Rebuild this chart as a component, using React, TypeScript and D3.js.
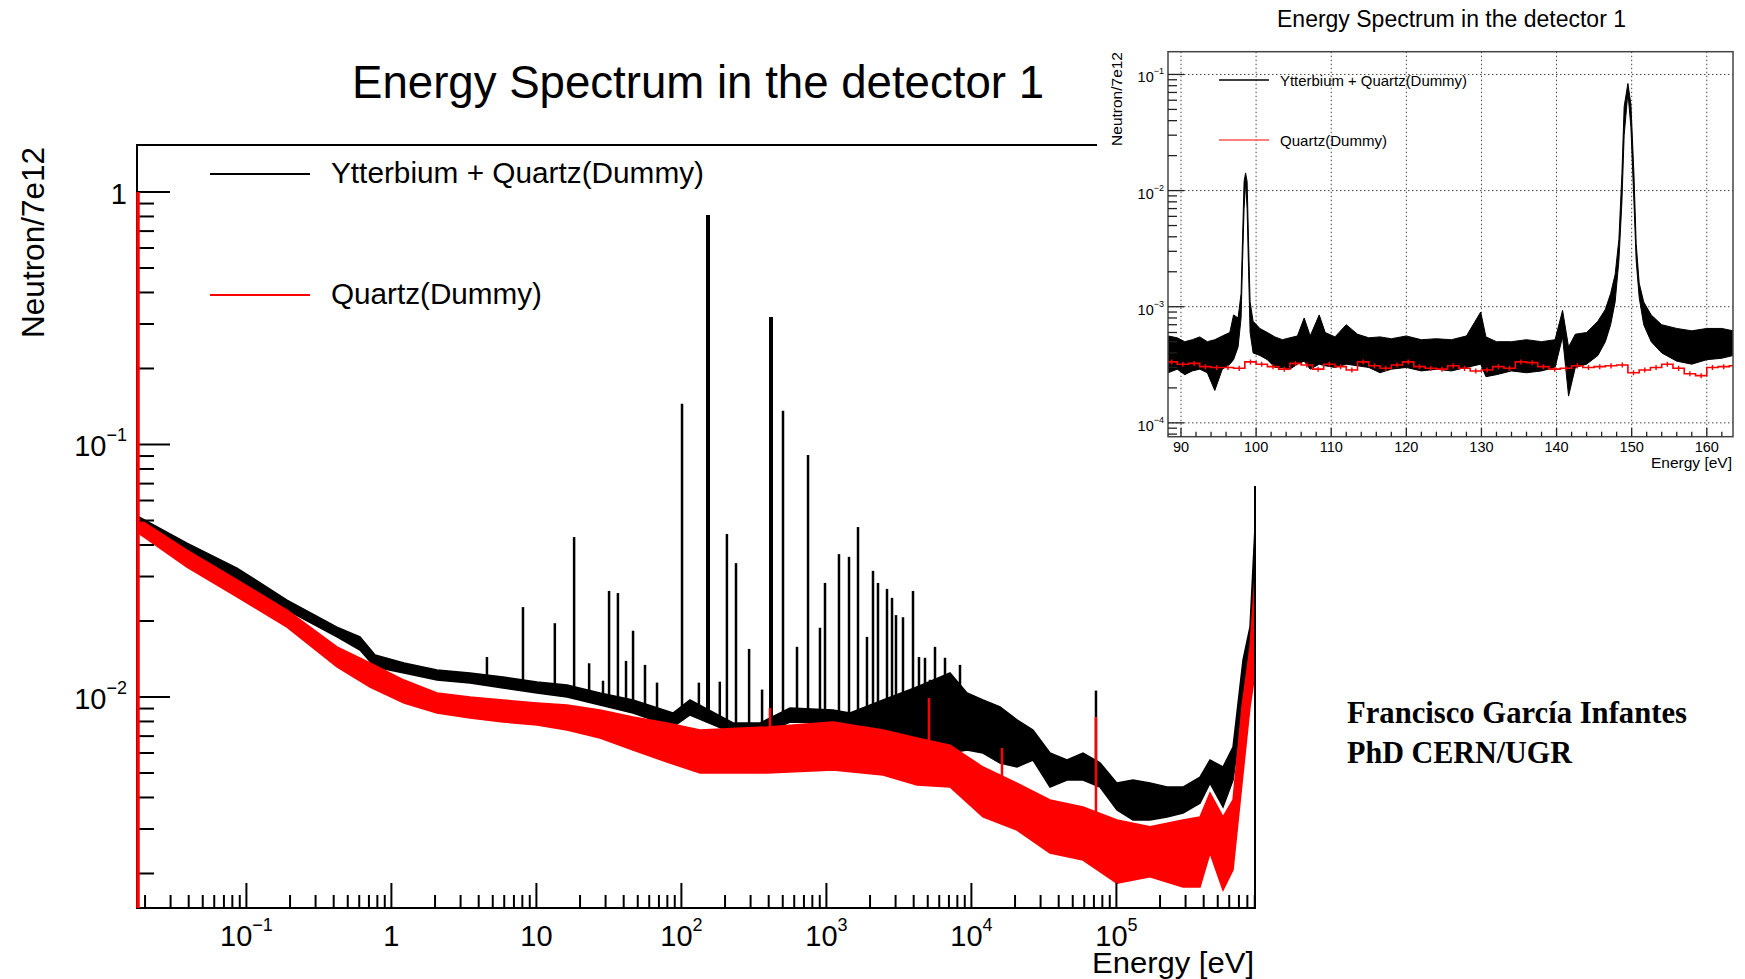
import React from "react";
import * as d3 from "d3";

// ---------------- Main chart data (energy in eV, Neutron/7e12) ----------------
const mainBlackE = [0.0176, 0.0389, 0.0861, 0.1905, 0.4214, 0.607, 0.771, 1.221, 2.063, 3.484, 5.885, 10.1, 16.26, 27.46, 46.37, 87.5, 114.6, 227, 348.4, 561, 1110, 1455, 2457, 4215, 7120, 9327, 12020, 15745, 20630, 26590, 34840, 45630, 58850, 77090, 100900, 130200, 170500, 223400, 288000, 377200, 442100, 543600, 637200, 746700, 834500, 903400];
const mainBlackHi = [0.0521, 0.0407, 0.0324, 0.0242, 0.0189, 0.0173, 0.01467, 0.01364, 0.0128, 0.01245, 0.012, 0.01147, 0.01115, 0.01037, 0.00973, 0.00864, 0.00973, 0.00789, 0.00789, 0.00905, 0.00888, 0.00864, 0.00973, 0.01095, 0.01245, 0.01037, 0.00973, 0.00913, 0.00811, 0.0074, 0.006, 0.00563, 0.006, 0.00548, 0.00456, 0.00469, 0.00456, 0.0044, 0.0044, 0.00482, 0.00563, 0.00528, 0.00634, 0.014, 0.01893, 0.0471];
const mainBlackLo = [0.0476, 0.0372, 0.0291, 0.0221, 0.0173, 0.01535, 0.01315, 0.01245, 0.01167, 0.01136, 0.01085, 0.01037, 0.01, 0.0093, 0.00864, 0.00761, 0.00849, 0.0072, 0.00707, 0.00796, 0.00789, 0.0074, 0.00676, 0.00634, 0.006, 0.00617, 0.006, 0.00548, 0.00528, 0.00563, 0.0044, 0.00469, 0.00469, 0.0044, 0.00357, 0.00326, 0.00326, 0.00335, 0.00347, 0.0038, 0.00456, 0.00367, 0.00469, 0.00913, 0.01315, 0.0299];

const mainRedE = [0.0176, 0.0389, 0.0861, 0.1905, 0.4214, 0.712, 1.221, 2.063, 3.484, 5.885, 10.1, 16.26, 27.46, 46.37, 79.57, 134.4, 389.4, 1110, 2457, 4215, 7120, 12020, 20630, 34840, 58850, 100900, 170500, 288000, 377200, 442100, 543600, 637200, 734900, 834500, 903400];
const mainRedHi = [0.0512, 0.0382, 0.0291, 0.0221, 0.01578, 0.01364, 0.01167, 0.01037, 0.01, 0.00973, 0.00947, 0.0093, 0.00888, 0.00833, 0.00789, 0.0074, 0.00761, 0.00796, 0.0074, 0.00688, 0.00645, 0.00528, 0.00456, 0.00391, 0.00367, 0.00326, 0.00306, 0.00326, 0.00335, 0.00417, 0.00335, 0.00391, 0.00913, 0.01578, 0.0299];
const mainRedLo = [0.045, 0.0327, 0.0249, 0.0189, 0.01315, 0.01095, 0.00947, 0.00864, 0.00826, 0.00796, 0.00775, 0.0074, 0.00688, 0.00617, 0.00553, 0.005, 0.005, 0.00514, 0.00491, 0.00448, 0.0044, 0.00335, 0.00297, 0.00241, 0.00226, 0.00183, 0.00194, 0.00177, 0.00177, 0.00241, 0.00172, 0.00207, 0.00456, 0.00913, 0.01245];

const mainBlackPeakE = [4.56, 8.08, 13.4, 18.2, 23.1, 28.8, 31.7, 36.5, 41.5, 46.4, 56.1, 67.9, 101, 132, 152.6, 184, 206, 238, 293, 360, 415, 502, 627, 747, 903, 978, 1221, 1432, 1652, 1905, 2096, 2269, 2618, 2835, 3020, 3375, 3956, 4215, 4350, 4786, 5183, 5610, 6576, 8344, 72300];
const mainBlackPeakV = [0.0144, 0.0227, 0.0196, 0.043, 0.0136, 0.0116, 0.0263, 0.0258, 0.0139, 0.0183, 0.0134, 0.0114, 0.145, 0.0114, 0.811, 0.0115, 0.0442, 0.0339, 0.0155, 0.0107, 0.32, 0.136, 0.0158, 0.0909, 0.0188, 0.0283, 0.0368, 0.0359, 0.0471, 0.0173, 0.0316, 0.0283, 0.0268, 0.0247, 0.0211, 0.0207, 0.0263, 0.011, 0.0144, 0.0143, 0.0117, 0.0158, 0.0143, 0.0134, 0.0106];

const mainRedPeakE = [408, 5100, 16250, 72300];
const mainRedPeakV = [0.00905, 0.0099, 0.00628, 0.00833];
const mainRedEdgeV = 1.0;

const MAIN_X_DOMAIN: [number, number] = [0.0176, 903400];
const MAIN_Y_DOMAIN: [number, number] = [0.00146, 1.535];

const mainXTickValues = [0.1, 1, 10, 100, 1000, 10000, 100000];
const mainXTickBase = ["10", "1", "10", "10", "10", "10", "10"];
const mainXTickExp = ["\u22121", "", "", "2", "3", "4", "5"];
const mainYTickValues = [0.01, 0.1, 1];
const mainYTickBase = ["10", "10", "1"];
const mainYTickExp = ["\u22122", "\u22121", ""];

// ---------------- Inset data ----------------
const insetBlackE = [88.3, 89.5, 90.5, 91.5, 92.5, 93.5, 94.5, 95.5, 96.5, 97.0, 97.6, 98.0, 98.2, 98.4, 98.6, 98.8, 99.0, 99.2, 99.6, 100.5, 101.5, 102.5, 103.5, 104.5, 105.5, 106.4, 107.2, 108.4, 109.2, 110.5, 112.0, 113.5, 115.0, 116.5, 118.0, 120.0, 122.0, 124.0, 126.0, 128.0, 129.9, 130.6, 132.0, 134.0, 136.0, 138.0, 139.8, 140.8, 141.6, 142.5, 144.0, 145.5, 146.5, 147.2, 147.8, 148.3, 148.7, 149.0, 149.5, 149.9, 150.3, 150.6, 151.0, 151.6, 152.6, 154.0, 156.0, 158.0, 160.0, 162.0, 163.5];
const insetBlackLo = [2.7e-4, 2.9e-4, 2.6e-4, 2.8e-4, 2.9e-4, 2.7e-4, 1.9e-4, 2.9e-4, 3.2e-4, 3.5e-4, 4.5e-4, 8e-4, 2.5e-3, 7e-3, 1.2e-2, 7e-3, 2e-3, 6e-4, 4e-4, 3.8e-4, 3.5e-4, 3.0e-4, 3.0e-4, 2.9e-4, 3.2e-4, 3.4e-4, 2.9e-4, 3.2e-4, 3.1e-4, 3.0e-4, 3.2e-4, 3.1e-4, 3.0e-4, 2.7e-4, 2.9e-4, 3.0e-4, 2.8e-4, 2.9e-4, 2.8e-4, 3.0e-4, 3.2e-4, 2.5e-4, 2.6e-4, 2.8e-4, 2.7e-4, 2.8e-4, 3.0e-4, 5.5e-4, 1.7e-4, 3.0e-4, 3.2e-4, 3.8e-4, 5e-4, 7e-4, 1.1e-3, 2.5e-3, 8e-3, 3e-2, 7e-2, 3.5e-2, 8e-3, 2.5e-3, 1.2e-3, 7e-4, 5e-4, 4e-4, 3.4e-4, 3.2e-4, 3.5e-4, 3.6e-4, 3.8e-4];
const insetBlackHi = [5.6e-4, 5.4e-4, 5.0e-4, 5.2e-4, 5.5e-4, 5.0e-4, 5.2e-4, 5.6e-4, 6.0e-4, 8.5e-4, 8.0e-4, 1.3e-3, 4e-3, 1.2e-2, 1.42e-2, 1.2e-2, 3.5e-3, 1.1e-3, 7.5e-4, 6.5e-4, 6.0e-4, 5.5e-4, 5.2e-4, 5.4e-4, 5.6e-4, 8.0e-4, 5.6e-4, 8.5e-4, 6.0e-4, 5.5e-4, 7.0e-4, 5.8e-4, 5.4e-4, 5.5e-4, 5.3e-4, 5.6e-4, 5.2e-4, 5.3e-4, 5.2e-4, 5.6e-4, 9.0e-4, 5.5e-4, 5.0e-4, 5.0e-4, 5.2e-4, 5.0e-4, 5.2e-4, 9.3e-4, 4.5e-4, 5.8e-4, 6.0e-4, 7.5e-4, 9.5e-4, 1.3e-3, 1.9e-3, 3.8e-3, 1.4e-2, 5.3e-2, 8.36e-2, 5.5e-2, 1.4e-2, 3.5e-3, 1.6e-3, 1.1e-3, 8.5e-4, 7e-4, 6.5e-4, 6.2e-4, 6.5e-4, 6.5e-4, 6.2e-4];

const insetRedStart = 88.0;
const insetRedBinWidth = 1.5;
const insetRedV = [3.35e-4, 3.2e-4, 3.25e-4, 3.05e-4, 3.0e-4, 3.0e-4, 2.95e-4, 3.35e-4, 3.2e-4, 3.05e-4, 2.9e-4, 3.25e-4, 3.15e-4, 2.9e-4, 3.2e-4, 3.05e-4, 2.85e-4, 3.35e-4, 3.1e-4, 2.95e-4, 3.15e-4, 3.35e-4, 3.05e-4, 2.95e-4, 2.9e-4, 3.1e-4, 2.95e-4, 2.8e-4, 2.85e-4, 3.05e-4, 2.95e-4, 3.35e-4, 3.3e-4, 3.05e-4, 2.9e-4, 2.95e-4, 3.1e-4, 3.0e-4, 3.05e-4, 3.1e-4, 3.15e-4, 2.7e-4, 2.85e-4, 3.0e-4, 3.2e-4, 2.95e-4, 2.65e-4, 2.55e-4, 3.0e-4, 3.05e-4, 3.1e-4];
const insetRedRelErr = 0.05;

const INSET_X_DOMAIN: [number, number] = [88.27, 163.49];
const INSET_Y_DOMAIN: [number, number] = [7.6e-5, 0.157];
const insetXTickValues = [90, 100, 110, 120, 130, 140, 150, 160];
const insetYTickValues = [1e-4, 1e-3, 1e-2, 1e-1];
const insetYTickExp = ["\u22124", "\u22123", "\u22122", "\u22121"];

const titleText = "Energy Spectrum in the detector 1";
const legendLabels = ["Ytterbium + Quartz(Dummy)", "Quartz(Dummy)"];
const yTitle = "Neutron/7e12";
const xTitle = "Energy [eV]";
const signature = ["Francisco Garc\u00eda Infantes", "PhD CERN/UGR"];

const SANS = "'Liberation Sans', Arial, Helvetica, sans-serif";
const SERIF = "'Liberation Serif', 'DejaVu Serif', serif";

function logTicks(domain: [number, number]) {
  const out: { v: number; major: boolean }[] = [];
  const k0 = Math.floor(Math.log10(domain[0]));
  const k1 = Math.ceil(Math.log10(domain[1]));
  for (let k = k0; k <= k1; k++) {
    for (let m = 1; m <= 9; m++) {
      const v = m * Math.pow(10, k);
      if (v >= domain[0] * 0.9999 && v <= domain[1] * 1.0001) out.push({ v, major: m === 1 });
    }
  }
  return out;
}

function interpLog(E: number, xs: number[], ys: number[]) {
  const i = d3.bisectRight(xs, E);
  if (i <= 0) return ys[0];
  if (i >= xs.length) return ys[ys.length - 1];
  const x0 = Math.log10(xs[i - 1]);
  const x1 = Math.log10(xs[i]);
  const t = (Math.log10(E) - x0) / (x1 - x0);
  const y0 = Math.log10(ys[i - 1]);
  const y1 = Math.log10(ys[i]);
  return Math.pow(10, y0 + t * (y1 - y0));
}

export default function App() {
  const L = 137, R = 1255, T = 145, B = 908;
  const mx = d3.scaleLog().domain(MAIN_X_DOMAIN).range([L, R]);
  const my = d3.scaleLog().domain(MAIN_Y_DOMAIN).range([B, T]);

  const idxB = d3.range(mainBlackE.length);
  const idxR = d3.range(mainRedE.length);
  const blackArea = d3.area<number>()
    .x((i) => mx(mainBlackE[i]))
    .y0((i) => my(mainBlackLo[i]))
    .y1((i) => my(mainBlackHi[i]))(idxB) || "";
  const redArea = d3.area<number>()
    .x((i) => mx(mainRedE[i]))
    .y0((i) => my(mainRedLo[i]))
    .y1((i) => my(mainRedHi[i]))(idxR) || "";

  const xt = logTicks(MAIN_X_DOMAIN);
  const yt = logTicks(MAIN_Y_DOMAIN);

  const iL = 1168, iR = 1733, iT = 51.7, iB = 436.7;
  const ix = d3.scaleLinear().domain(INSET_X_DOMAIN).range([iL, iR]);
  const iy = d3.scaleLog().domain(INSET_Y_DOMAIN).range([iB, iT]);
  const idxI = d3.range(insetBlackE.length);
  const insetArea = d3.area<number>()
    .x((i) => ix(insetBlackE[i]))
    .y0((i) => iy(insetBlackLo[i]))
    .y1((i) => iy(insetBlackHi[i]))(idxI) || "";
  const redSteps: [number, number][] = [];
  insetRedV.forEach((v, i) => {
    const e0 = insetRedStart + i * insetRedBinWidth;
    redSteps.push([e0, v], [e0 + insetRedBinWidth, v]);
  });
  const redStepPath = d3.line<[number, number]>()
    .x((d) => ix(d[0]))
    .y((d) => iy(d[1]))(redSteps) || "";
  const iyt = logTicks(INSET_Y_DOMAIN);
  const ixMinor = d3.range(90, 164, 2);

  return (
    <svg width={1745} height={979} style={{ position: "absolute", left: 0, top: 0, background: "#fff" }}
      xmlns="http://www.w3.org/2000/svg">
      <rect x={0} y={0} width={1745} height={979} fill="#fff" />
      <defs>
        <clipPath id="mainClip"><rect x={L} y={T} width={R - L} height={B - T} /></clipPath>
        <clipPath id="insetClip"><rect x={iL} y={iT} width={iR - iL} height={iB - iT} /></clipPath>
      </defs>

      <text x={698} y={98} textAnchor="middle" fontFamily={SANS} fontSize={47} textLength={692}
        lengthAdjust="spacingAndGlyphs" fill="#000">{titleText}</text>

      <g clipPath="url(#mainClip)">
        <path d={blackArea} fill="#000" stroke="#000" strokeWidth={1.5} />
        {mainBlackPeakE.map((e, i) => {
          const base = interpLog(e, mainBlackE, mainBlackLo);
          return (
            <line key={"bp" + i} x1={mx(e)} x2={mx(e)} y1={my(base)} y2={my(mainBlackPeakV[i])}
              stroke="#000" strokeWidth={mainBlackPeakV[i] > 0.2 ? 4 : 2.5} />
          );
        })}
        <path d={redArea} fill="#ff0000" stroke="#ff0000" strokeWidth={1.5} />
        {mainRedPeakE.map((e, i) => {
          const base = interpLog(e, mainRedE, mainRedLo);
          return (
            <line key={"rp" + i} x1={mx(e)} x2={mx(e)} y1={my(base)} y2={my(mainRedPeakV[i])}
              stroke="#ff0000" strokeWidth={2.5} />
          );
        })}
      </g>

      <rect x={L} y={T} width={R - L} height={B - T} fill="none" stroke="#000" strokeWidth={2} />
      {xt.map((t, i) => (
        <line key={"xt" + i} x1={mx(t.v)} x2={mx(t.v)} y1={B} y2={B - (t.major ? 25 : 13)} stroke="#000" strokeWidth={2} />
      ))}
      {yt.map((t, i) => (
        <line key={"yt" + i} x1={L} x2={L + (t.major ? 33 : 17)} y1={my(t.v)} y2={my(t.v)} stroke="#000" strokeWidth={2} />
      ))}
      <line x1={mx(MAIN_X_DOMAIN[0]) + 1} x2={mx(MAIN_X_DOMAIN[0]) + 1} y1={B} y2={my(mainRedEdgeV)} stroke="#ff0000" strokeWidth={3.5} />

      {mainXTickValues.map((v, i) => (
        <text key={"xl" + i} x={mx(v)} y={946} textAnchor="middle" fontFamily={SANS} fontSize={29} fill="#000">
          <tspan>{mainXTickBase[i]}</tspan>
          {mainXTickExp[i] && <tspan fontSize={18} dy={-15}>{mainXTickExp[i]}</tspan>}
        </text>
      ))}
      {mainYTickValues.map((v, i) => (
        <text key={"yl" + i} x={127} y={my(v) + 12} textAnchor="end" fontFamily={SANS} fontSize={29} fill="#000">
          <tspan>{mainYTickBase[i]}</tspan>
          {mainYTickExp[i] && <tspan fontSize={18} dy={-15}>{mainYTickExp[i]}</tspan>}
        </text>
      ))}
      <text x={1254} y={973} textAnchor="end" fontFamily={SANS} fontSize={29} textLength={162}
        lengthAdjust="spacingAndGlyphs" fill="#000">{xTitle}</text>
      <text transform="translate(44,147) rotate(-90)" textAnchor="end" fontFamily={SANS} fontSize={31.5} fill="#000">{yTitle}</text>

      <line x1={210} x2={310} y1={174} y2={174} stroke="#000" strokeWidth={2} />
      <text x={331} y={183} fontFamily={SANS} fontSize={29} textLength={373} lengthAdjust="spacingAndGlyphs" fill="#000">{legendLabels[0]}</text>
      <line x1={210} x2={310} y1={295} y2={295} stroke="#ff0000" strokeWidth={2} />
      <text x={331} y={304} fontFamily={SANS} fontSize={29} textLength={211} lengthAdjust="spacingAndGlyphs" fill="#000">{legendLabels[1]}</text>

      {/* ---------------- inset ---------------- */}
      <rect x={1097} y={0} width={648} height={486} fill="#fff" />
      <text x={1451.5} y={27} textAnchor="middle" fontFamily={SANS} fontSize={23} textLength={349}
        lengthAdjust="spacingAndGlyphs" fill="#000">{titleText}</text>

      {insetXTickValues.map((v, i) => (
        <line key={"ig" + i} x1={ix(v)} x2={ix(v)} y1={iT} y2={iB} stroke="#444" strokeWidth={1} strokeDasharray="1.5,2.5" />
      ))}
      {insetYTickValues.map((v, i) => (
        <line key={"igy" + i} x1={iL} x2={iR} y1={iy(v)} y2={iy(v)} stroke="#444" strokeWidth={1} strokeDasharray="1.5,2.5" />
      ))}

      <g clipPath="url(#insetClip)">
        <path d={insetArea} fill="#000" stroke="#000" strokeWidth={1} />
        <path d={redStepPath} fill="none" stroke="#ff0000" strokeWidth={1.6} />
        {insetRedV.map((v, i) => {
          const ec = insetRedStart + (i + 0.5) * insetRedBinWidth;
          return (
            <line key={"re" + i} x1={ix(ec)} x2={ix(ec)} y1={iy(v * (1 - insetRedRelErr))} y2={iy(v * (1 + insetRedRelErr))}
              stroke="#ff0000" strokeWidth={1.4} />
          );
        })}
      </g>

      <rect x={iL} y={iT} width={iR - iL} height={iB - iT} fill="none" stroke="#444" strokeWidth={1.5} />
      {insetXTickValues.map((v, i) => (
        <line key={"ixt" + i} x1={ix(v)} x2={ix(v)} y1={iB} y2={iB - 9} stroke="#222" strokeWidth={1.3} />
      ))}
      {ixMinor.filter((v) => v % 10 !== 0).map((v, i) => (
        <line key={"ixm" + i} x1={ix(v)} x2={ix(v)} y1={iB} y2={iB - 5} stroke="#222" strokeWidth={1.3} />
      ))}
      {iyt.map((t, i) => (
        <line key={"iyt" + i} x1={iL} x2={iL + (t.major ? 16 : 9)} y1={iy(t.v)} y2={iy(t.v)} stroke="#222" strokeWidth={1.3} />
      ))}
      {insetXTickValues.map((v, i) => (
        <text key={"ixl" + i} x={ix(v)} y={452} textAnchor="middle" fontFamily={SANS} fontSize={14.5} fill="#000">{v}</text>
      ))}
      {insetYTickValues.map((v, i) => (
        <text key={"iyl" + i} x={1164} y={iy(v) + 8} textAnchor="end" fontFamily={SANS} fontSize={14.5} fill="#000">
          <tspan>10</tspan>
          <tspan fontSize={9} dy={-8}>{insetYTickExp[i]}</tspan>
        </text>
      ))}
      <text x={1732} y={468} textAnchor="end" fontFamily={SANS} fontSize={15.5} fill="#000">{xTitle}</text>
      <text transform="translate(1122,52) rotate(-90)" textAnchor="end" fontFamily={SANS} fontSize={15.5} fill="#000">{yTitle}</text>

      <line x1={1219} x2={1269} y1={80} y2={80} stroke="#000" strokeWidth={1.3} />
      <text x={1280} y={86} fontFamily={SANS} fontSize={15} textLength={187} lengthAdjust="spacingAndGlyphs" fill="#000">{legendLabels[0]}</text>
      <line x1={1219} x2={1269} y1={140} y2={140} stroke="#ff5555" strokeWidth={1.5} />
      <text x={1280} y={146} fontFamily={SANS} fontSize={15} textLength={107} lengthAdjust="spacingAndGlyphs" fill="#000">{legendLabels[1]}</text>

      <text x={1347} y={723} fontFamily={SERIF} fontWeight="bold" fontSize={31} textLength={340}
        lengthAdjust="spacingAndGlyphs" fill="#000">{signature[0]}</text>
      <text x={1347} y={763} fontFamily={SERIF} fontWeight="bold" fontSize={31} textLength={225}
        lengthAdjust="spacingAndGlyphs" fill="#000">{signature[1]}</text>
    </svg>
  );
}
